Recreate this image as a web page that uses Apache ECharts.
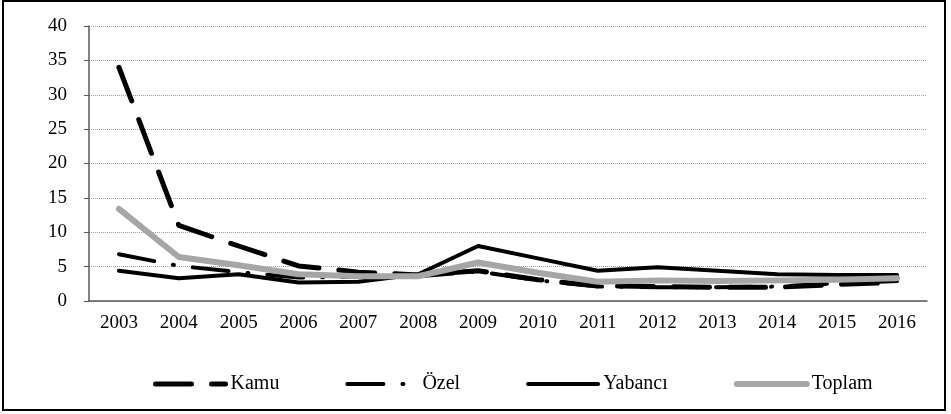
<!DOCTYPE html>
<html>
<head>
<meta charset="utf-8">
<script src="https://cdn.jsdelivr.net/npm/echarts@6/dist/echarts.min.js"></script>
<style>
html, body { margin: 0; padding: 0; background: #fff; }
#chart { width: 951px; height: 414px; }
</style>
</head>
<body>
<div id="chart"></div>
<script>
// yillar
var years = ['2003', '2004', '2005', '2006', '2007', '2008', '2009', '2010', '2011', '2012', '2013', '2014', '2015', '2016'];

// seriler
var kamu    = [34, 11, 8, 5.1, 4.2, 3.8, 4.4, 3.1, 2.2, 2.1, 2.0, 2.0, 2.4, 2.7];
var ozel    = [6.8, 5.1, 4.2, 3.4, 3.5, 3.6, 4.3, 3.0, 2.1, 2.0, 2.0, 2.1, 2.6, 2.9];
var yabanci = [4.4, 3.3, 3.9, 2.7, 2.8, 3.9, 8.0, 6.2, 4.4, 4.9, 4.4, 3.9, 3.8, 3.8];
var toplam  = [13.4, 6.4, 5.2, 3.9, 3.6, 3.6, 5.6, 4.1, 2.8, 3.0, 2.9, 3.0, 3.1, 3.3];

var FONT = 'Liberation Serif';

var myChart = echarts.init(document.getElementById('chart'));

function lineSeries(name, data, color, width, dash){
    return {
        name: name,
        type: 'line',
        data: data,
        symbol: 'none',
        smooth: false,
        animation: false,
        lineStyle: {
            color: color,
            width: width,
            type: dash,
            cap: 'round',
            join: 'round'
        },
        itemStyle: { color: color }
    };
}

var option = {
    animation: false,
    backgroundColor: '#fff',
    textStyle: { fontFamily: FONT },
    grid: { left: 89, right: 24, top: 26, bottom: 113 },
    graphic: [{
        type: 'rect',
        shape: { x: 3, y: 1, width: 942, height: 409 },
        style: { fill: 'none', stroke: '#000', lineWidth: 2 },
        silent: true
    }],
    legend: {
        left: 148,
        top: 369,
        itemWidth: 70,
        itemHeight: 10,
        itemGap: 66,
        itemStyle: { opacity: 0 },
        lineStyle: { width: 'inherit' },
        formatter: '{t|{name}}',
        textStyle: {
            fontFamily: FONT, fontSize: 20, color: '#000',
            rich: { t: { fontFamily: FONT, fontSize: 20, color: '#000' } }
        },
        data: ['Kamu', 'Özel', 'Yabancı', 'Toplam']
    },
    xAxis: {
        type: 'category',
        data: years,
        boundaryGap: true,
        axisLine: { lineStyle: { color: '#595959', width: 1.5 } },
        axisTick: { alignWithLabel: true, length: 5, lineStyle: { color: '#595959' } },
        axisLabel: { fontFamily: FONT, fontSize: 19, color: '#000', margin: 13 }
    },
    yAxis: {
        type: 'value',
        min: 0,
        max: 40,
        interval: 5,
        axisLine: { show: true, lineStyle: { color: '#595959', width: 1.5 } },
        axisTick: { show: true, length: 5, lineStyle: { color: '#595959' } },
        axisLabel: { fontFamily: FONT, fontSize: 19, color: '#000', margin: 22 },
        splitLine: { lineStyle: { color: '#a0a0a0', type: [1, 1], width: 1 } }
    },
    series: [
        lineSeries('Kamu', kamu, '#000', 5, [36, 20]),
        lineSeries('Özel', ozel, '#000', 4, [36, 19, 1, 19]),
        lineSeries('Yabancı', yabanci, '#000', 4, 'solid'),
        lineSeries('Toplam', toplam, '#a6a6a6', 6, 'solid')
    ]
};

myChart.setOption(option);
</script>
</body>
</html>
